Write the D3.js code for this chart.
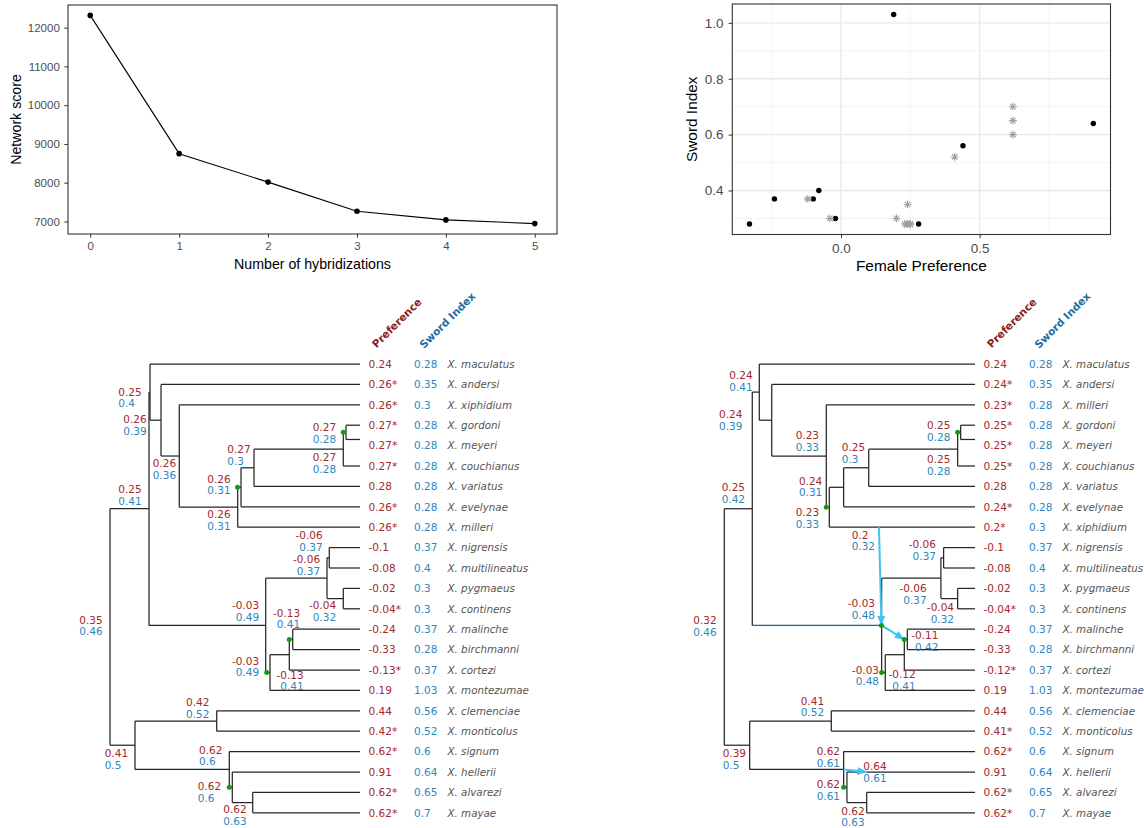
<!DOCTYPE html>
<html><head><meta charset="utf-8">
<script src="https://cdn.jsdelivr.net/npm/d3@7"></script>
<style>body{margin:0;background:#fff} svg{display:block}</style>
</head><body>
<svg id="c" width="1144" height="828"></svg>
<script>
// ---------------- DATA ----------------
// Panel A: network score vs number of hybridizations
const hybridizations = [0, 1, 2, 3, 4, 5];
const networkScore = [12316, 8749, 8015, 7265, 7040, 6945];

// Tree (left, species tree) tip order and trait values
const tipsLeft = ["X. maculatus","X. andersi","X. xiphidium","X. gordoni","X. meyeri","X. couchianus","X. variatus","X. evelynae","X. milleri","X. nigrensis","X. multilineatus","X. pygmaeus","X. continens","X. malinche","X. birchmanni","X. cortezi","X. montezumae","X. clemenciae","X. monticolus","X. signum","X. hellerii","X. alvarezi","X. mayae"];
const prefLeft  = [0.24,0.26,0.26,0.27,0.27,0.27,0.28,0.26,0.26,-0.1,-0.08,-0.02,-0.04,-0.24,-0.33,-0.13,0.19,0.44,0.42,0.62,0.91,0.62,0.62];
const swordLeft = [0.28,0.35,0.3,0.28,0.28,0.28,0.28,0.28,0.28,0.37,0.4,0.3,0.3,0.37,0.28,0.37,1.03,0.56,0.52,0.6,0.64,0.65,0.7];
const estLeft   = [0,1,1,1,1,1,0,1,1,0,0,0,1,0,0,1,0,0,1,1,0,1,1];
const tipParentLeft = ["D","F","G","GM","GM","K","L","M","N","Q","Q","S","S","V","V","U","T","W","W","X","Y","Z","Z"];
// internal nodes: [id, parent, branch depth, preference, sword index]
const nodesLeft = [
 ["R",null,0,0.35,0.46],["B","R",3.9,0.25,0.41],["C","R",2.5,0.41,0.5],
 ["D","B",4.0,0.25,0.4],["E","B",15.57,-0.03,0.49],["F","D",5.1,0.26,0.39],
 ["G","F",6.93,0.26,0.36],["N","G",12.77,0.26,0.31],["hN","N",12.75,null,null],
 ["M","hN",13.1,0.26,0.31],["L","M",14.4,0.27,0.3],["K","L",23.33,0.27,0.28],
 ["hK","K",23.33,null,null],["GM","hK",23.6,0.27,0.28],["P","E",21.7,-0.06,0.37],
 ["Q","P",21.93,-0.06,0.37],["S","P",23.33,-0.04,0.32],["hT","E",15.67,null,null],
 ["T","hT",16.0,-0.03,0.49],["U","T",17.93,-0.13,0.41],["hU","U",17.93,null,null],
 ["V","hU",18.27,-0.13,0.41],["W","C",10.67,0.42,0.52],["X","C",11.93,0.62,0.6],
 ["hX","X",11.93,null,null],["Y","hX",12.23,0.62,0.6],["Z","Y",14.27,0.62,0.63]
];

// Network (right) tip order and trait values
const tipsRight = ["X. maculatus","X. andersi","X. milleri","X. gordoni","X. meyeri","X. couchianus","X. variatus","X. evelynae","X. xiphidium","X. nigrensis","X. multilineatus","X. pygmaeus","X. continens","X. malinche","X. birchmanni","X. cortezi","X. montezumae","X. clemenciae","X. monticolus","X. signum","X. hellerii","X. alvarezi","X. mayae"];
const prefRight  = [0.24,0.24,0.23,0.25,0.25,0.25,0.28,0.24,0.2,-0.1,-0.08,-0.02,-0.04,-0.24,-0.33,-0.12,0.19,0.44,0.41,0.62,0.91,0.62,0.62];
const swordRight = [0.28,0.35,0.28,0.28,0.28,0.28,0.28,0.28,0.3,0.37,0.4,0.3,0.3,0.37,0.28,0.37,1.03,0.56,0.52,0.6,0.64,0.65,0.7];
const estRight   = [0,1,1,1,1,1,0,1,1,0,0,0,1,0,0,1,0,0,1,1,0,1,1];
const tipParentRight = ["D","F","G","GM","GM","K","L","M","XI","Q","Q","S","S","V","V","U","T","W","W","X","H2","Z","Z"];
const nodesRight = [
 ["R",null,0,0.32,0.46],["B","R",2.79,0.25,0.42],["C","R",2.53,0.39,0.5],
 ["D","B",3.49,0.24,0.41],["F","D",4.73,0.24,0.39],["G","F",10.17,0.23,0.33],
 ["hG","G",10.17,null,null],["N","hG",10.47,0.23,0.33],["M","N",11.9,0.24,0.31],
 ["L","M",14.4,0.25,0.3],["K","L",23.27,0.25,0.28],["hK","K",23.27,null,null],
 ["GM","hK",23.57,0.25,0.28],["XI","N",15.42,0.2,0.32],["hE","B",15.67,null,null],
 ["E","hE",15.69,-0.03,0.48],["P","E",21.6,-0.06,0.37],["Q","P",21.87,-0.06,0.37],
 ["S","P",23.27,-0.04,0.32],["hT","E",15.69,null,null],["T","hT",16.05,-0.03,0.48],
 ["U","T",17.95,-0.12,0.41],["hU","U",17.95,null,null],["V","hU",18.25,-0.11,0.42],
 ["W","C",10.67,0.41,0.52],["X","C",11.9,0.62,0.61],["hX","X",11.9,null,null],
 ["Y","hX",12.23,0.62,0.61],["H2","Y",14.2,0.64,0.61],["Z","Y",14.2,0.62,0.63]
];
const minorEdgesRight = [["XI","hE"],["E","hU"],["X","H2"]];
const majorHybridRight = [["B","hE"]];

// ---------------- LAYOUT (label nudges, px) ----------------
const nudgeLeft = {R:[-30.7,-7.2],B:[-30.7,-19.2],D:[-31.7,-0.3],F:[-37.7,-0.7],G:[-26.6,7.6],L:[-26.7,-18.7],
 M:[-33.7,-8.5],N:[-30.4,7],GM:[-33.3,-4.7],K:[-30.6,8.3],Q:[-30,-22.2],P:[-30.3,-18.7],S:[-30.6,7],
 E:[-30,-19.8],V:[-16,-26.5],T:[-34.3,-11.7],U:[-9,20.2],W:[-30.7,-18.4],C:[-30.3,7.9],X:[-30.3,-19.5],
 Y:[-34.6,-0.7],Z:[-29.4,6.8]};
const nudgeRight = {R:[-31,-6.7],B:[-30.6,-21.7],D:[-30,-17],F:[-52.7,-6],G:[-30.6,-21],L:[-27,-20.7],
 M:[-44.7,-6.3],N:[-33.6,5],GM:[-33.7,-6.7],K:[-30.7,10],XI:[-27.3,7.7],Q:[-31,-13.4],P:[-37.7,10.3],
 S:[-27,9],E:[-30,-21.8],V:[7.7,-4],T:[-29.6,-2.7],U:[-12,19.8],W:[-30.6,-20.3],C:[-27,8.3],
 X:[-27,-18.1],H2:[-3.4,-6],Y:[-30.3,-2.7],Z:[-25.4,8.3]};
const lineRowOverride = {"X. meyeri": 3.7};

// ---------------- STYLE ----------------
const FR = "'Liberation Sans', Arial, sans-serif";
const FT = "'DejaVu Sans', sans-serif";
const RED = "#a3292b", BLUE = "#2f86bd", HRED = "#8e1b1b", HBLUE = "#1b6ea3";
const GRAYTXT = "#555555", TICKTXT = "#4d4d4d";
const LIGHTBLUE = "#3fc3f3", DARKBLUE = "#1f6590";

const svg = d3.select("#c");
const defs = svg.append("defs");
defs.append("marker").attr("id","arr").attr("viewBox","0 0 10 8").attr("refX",9.5).attr("refY",4)
  .attr("markerWidth",10).attr("markerHeight",8).attr("markerUnits","userSpaceOnUse").attr("orient","auto")
  .append("path").attr("d","M0,0L10,4L0,8z").attr("fill",LIGHTBLUE);

function pad5(e){ const d=(e[1]-e[0])*0.05; return [e[0]-d, e[1]+d]; }
function styleAxis(g, size){
  g.select(".domain").remove();
  g.selectAll(".tick line").attr("stroke","#333").attr("stroke-width",1);
  g.selectAll(".tick text").attr("fill",TICKTXT).attr("font-family",FR).attr("font-size",size);
}

// ---------------- PANEL A: line chart ----------------
(function(){
  const P = {l:68, r:557, t:5, b:234};
  const x = d3.scaleLinear().domain(pad5(d3.extent(hybridizations))).range([P.l,P.r]);
  const y = d3.scaleLinear().domain(pad5(d3.extent(networkScore))).range([P.b,P.t]);
  const g = svg.append("g");
  g.append("g").attr("transform",`translate(0,${P.b})`)
    .call(d3.axisBottom(x).tickValues(hybridizations).tickFormat(d3.format("d")).tickSize(3.7).tickPadding(4.5))
    .call(a=>styleAxis(a,11.5));
  g.append("g").attr("transform",`translate(${P.l},0)`)
    .call(d3.axisLeft(y).tickValues(d3.range(7000,12001,1000)).tickFormat(d3.format("d")).tickSize(3.7).tickPadding(4.5))
    .call(a=>styleAxis(a,11.5));
  g.append("path").datum(hybridizations.map((h,i)=>[h,networkScore[i]]))
    .attr("d", d3.line().x(d=>x(d[0])).y(d=>y(d[1]))).attr("fill","none").attr("stroke","#000").attr("stroke-width",1.1);
  g.selectAll("circle").data(hybridizations).join("circle")
    .attr("cx",(d)=>x(d)).attr("cy",(d,i)=>y(networkScore[i])).attr("r",2.8).attr("fill","#000");
  g.append("rect").attr("x",P.l).attr("y",P.t).attr("width",P.r-P.l).attr("height",P.b-P.t)
    .attr("fill","none").attr("stroke","#333").attr("stroke-width",1.1);
  g.append("text").attr("x",(P.l+P.r)/2).attr("y",268.5).attr("text-anchor","middle")
    .attr("font-family",FR).attr("font-size",14.2).attr("fill","#000").text("Number of hybridizations");
  g.append("text").attr("transform",`translate(21,${(P.t+P.b)/2}) rotate(-90)`).attr("text-anchor","middle")
    .attr("font-family",FR).attr("font-size",14.2).attr("fill","#000").text("Network score");
})();

// ---------------- PANEL B: scatter ----------------
(function(){
  const P = {l:732.3, r:1110.5, t:4, b:234.5};
  const x = d3.scaleLinear().domain(pad5(d3.extent(prefRight))).range([P.l,P.r]);
  const y = d3.scaleLinear().domain(pad5(d3.extent(swordRight))).range([P.b,P.t]);
  const g = svg.append("g");
  const xMinor = [-0.25,0.25,0.75], xMajor = [0,0.5];
  const yMinor = [0.3,0.5,0.7,0.9], yMajor = [0.4,0.6,0.8,1.0];
  g.selectAll(".gxm").data(xMinor).join("line").attr("x1",x).attr("x2",x).attr("y1",P.t).attr("y2",P.b).attr("stroke","#f0f0f0").attr("stroke-width",0.8);
  g.selectAll(".gym").data(yMinor).join("line").attr("y1",y).attr("y2",y).attr("x1",P.l).attr("x2",P.r).attr("stroke","#f0f0f0").attr("stroke-width",0.8);
  g.selectAll(".gxM").data(xMajor).join("line").attr("x1",x).attr("x2",x).attr("y1",P.t).attr("y2",P.b).attr("stroke","#e8e8e8").attr("stroke-width",1.3);
  g.selectAll(".gyM").data(yMajor).join("line").attr("y1",y).attr("y2",y).attr("x1",P.l).attr("x2",P.r).attr("stroke","#e8e8e8").attr("stroke-width",1.3);
  g.append("g").attr("transform",`translate(0,${P.b})`)
    .call(d3.axisBottom(x).tickValues(xMajor).tickFormat(d3.format(".1f")).tickSize(3.7).tickPadding(5))
    .call(a=>styleAxis(a,13.5));
  g.append("g").attr("transform",`translate(${P.l},0)`)
    .call(d3.axisLeft(y).tickValues(yMajor).tickFormat(d3.format(".1f")).tickSize(3.7).tickPadding(5))
    .call(a=>styleAxis(a,13.5));
  const idx = d3.range(prefRight.length);
  g.selectAll(".dot").data(idx.filter(i=>!estRight[i])).join("circle")
    .attr("cx",i=>x(prefRight[i])).attr("cy",i=>y(swordRight[i])).attr("r",2.7).attr("fill","#000");
  const a=3.9, b=2.75;
  const star = `M${-a},0L${a},0M0,${-a}L0,${a}M${-b},${-b}L${b},${b}M${-b},${b}L${b},${-b}`;
  g.selectAll(".star").data(idx.filter(i=>estRight[i])).join("path")
    .attr("transform",i=>`translate(${x(prefRight[i])},${y(swordRight[i])})`)
    .attr("d",star).attr("stroke","#a0a0a0").attr("stroke-width",1.1).attr("fill","none");
  g.append("rect").attr("x",P.l).attr("y",P.t).attr("width",P.r-P.l).attr("height",P.b-P.t)
    .attr("fill","none").attr("stroke","#333").attr("stroke-width",1.1);
  g.append("text").attr("x",(P.l+P.r)/2).attr("y",271).attr("text-anchor","middle")
    .attr("font-family",FR).attr("font-size",15.4).attr("fill","#000").text("Female Preference");
  g.append("text").attr("transform",`translate(697.2,${(P.t+P.b)/2}) rotate(-90)`).attr("text-anchor","middle")
    .attr("font-family",FR).attr("font-size",15.4).attr("fill","#000").text("Sword Index");
})();

// ---------------- TREES ----------------
const TIP_DEPTH = 25;
const FS = 10.5;
const FSN = 10.3;
const tmp = svg.append("text").attr("font-family",FT).attr("font-size",FS).text("-");
const MINUS_W = tmp.node().getComputedTextLength();
tmp.remove();

function fmt(v){ return String(v); }

function drawTree(cfg){
  const {tips,pref,sword,est,tipParent,nodes,x0,x1,nudge,minor,major} = cfg;
  const xs = d3.scaleLinear().domain([0,TIP_DEPTH]).range([x0,x1]);
  const ys = d3.scaleLinear().domain([0,tips.length-1]).range([364,812.8]);
  const N = new Map();
  nodes.forEach(([id,par,dep,p,s])=>N.set(id,{id,par,dep,p,s,kids:[]}));
  tips.forEach((name,i)=>N.set("tip:"+name,{id:"tip:"+name,par:tipParent[i],dep:TIP_DEPTH,tip:true,i,name,kids:[]}));
  N.forEach(n=>{ if(n.par) N.get(n.par).kids.push(n); });
  function gy(n){
    if(n.y!==undefined) return n.y;
    if(n.tip){ const r = lineRowOverride[n.name]!==undefined ? lineRowOverride[n.name] : n.i; n.y = ys(r); }
    else { const c = n.kids.map(gy); n.y = (d3.min(c)+d3.max(c))/2; }
    return n.y;
  }
  N.forEach(n=>{ gy(n); n.x = xs(n.dep); });
  const all = Array.from(N.values());
  const majorSet = new Set((major||[]).map(e=>e[1]));
  const g = svg.append("g");
  // horizontal edges
  g.selectAll(".h").data(all.filter(n=>n.par)).join("line")
    .attr("x1",n=>N.get(n.par).x).attr("x2",n=>n.x).attr("y1",n=>n.y).attr("y2",n=>n.y)
    .attr("stroke",n=>majorSet.has(n.id)?DARKBLUE:"#262626").attr("stroke-width",1.25);
  // vertical connectors
  g.selectAll(".v").data(all.filter(n=>n.kids.length>1)).join("line")
    .attr("x1",n=>n.x).attr("x2",n=>n.x)
    .attr("y1",n=>d3.min(n.kids,k=>k.y)).attr("y2",n=>d3.max(n.kids,k=>k.y))
    .attr("stroke","#262626").attr("stroke-width",1.25);
  // minor hybrid edges
  g.selectAll(".m").data(minor||[]).join("line")
    .attr("x1",e=>N.get(e[0]).x).attr("y1",e=>N.get(e[0]).y)
    .attr("x2",e=>N.get(e[1]).x).attr("y2",e=>N.get(e[1]).y)
    .attr("stroke",LIGHTBLUE).attr("stroke-width",2).attr("marker-end","url(#arr)");
  // hybrid node dots
  g.selectAll(".dot").data(all.filter(n=>!n.tip && n.id[0]==="h")).join("circle")
    .attr("cx",n=>n.x).attr("cy",n=>n.y).attr("r",2.5).attr("fill","#139a13");
  // node labels
  const lab = all.filter(n=>!n.tip && n.p!==null && n.p!==undefined);
  lab.forEach(n=>{
    const nd = nudge[n.id]||[-30,-10];
    const lx = n.x+nd[0], cy = n.y+nd[1];
    g.append("text").attr("x",lx-(n.p<0?MINUS_W:0)).attr("y",cy+3.8)
      .attr("font-family",FT).attr("font-size",FS).attr("fill",RED).text(fmt(n.p));
    g.append("text").attr("x",lx-(n.s<0?MINUS_W:0)).attr("y",cy+11.7+3.8)
      .attr("font-family",FT).attr("font-size",FS).attr("fill",BLUE).text(fmt(n.s));
  });
  // tip columns
  const tx = xs(TIP_DEPTH);
  const ti = d3.range(tips.length);
  g.selectAll(".tp").data(ti).join("text").attr("x",tx+8.5).attr("y",i=>ys(i)+3.8)
    .attr("font-family",FT).attr("font-size",FS).attr("fill",RED).text(i=>fmt(pref[i])+(est[i]?"*":""));
  g.selectAll(".ts").data(ti).join("text").attr("x",tx+54).attr("y",i=>ys(i)+3.8)
    .attr("font-family",FT).attr("font-size",FS).attr("fill",BLUE).text(i=>fmt(sword[i]));
  g.selectAll(".tn").data(ti).join("text").attr("x",tx+87.5).attr("y",i=>ys(i)+3.8)
    .attr("font-family",FT).attr("font-size",FSN).attr("font-style","italic").attr("fill",GRAYTXT).text(i=>tips[i]);
  // headers
  g.append("text").attr("transform",`translate(${tx+16.5},348.5) rotate(-45)`)
    .attr("font-family",FT).attr("font-size",10.5).attr("font-weight","bold").attr("fill",HRED).text("Preference");
  g.append("text").attr("transform",`translate(${tx+64},349) rotate(-45)`)
    .attr("font-family",FT).attr("font-size",10.5).attr("font-weight","bold").attr("fill",HBLUE).text("Sword Index");
}

drawTree({tips:tipsLeft,pref:prefLeft,sword:swordLeft,est:estLeft,tipParent:tipParentLeft,nodes:nodesLeft,
  x0:110,x1:360,nudge:nudgeLeft,minor:[],major:[]});
drawTree({tips:tipsRight,pref:prefRight,sword:swordRight,est:estRight,tipParent:tipParentRight,nodes:nodesRight,
  x0:724.3,x1:975,nudge:nudgeRight,minor:minorEdgesRight,major:majorHybridRight});
</script>
</body></html>
